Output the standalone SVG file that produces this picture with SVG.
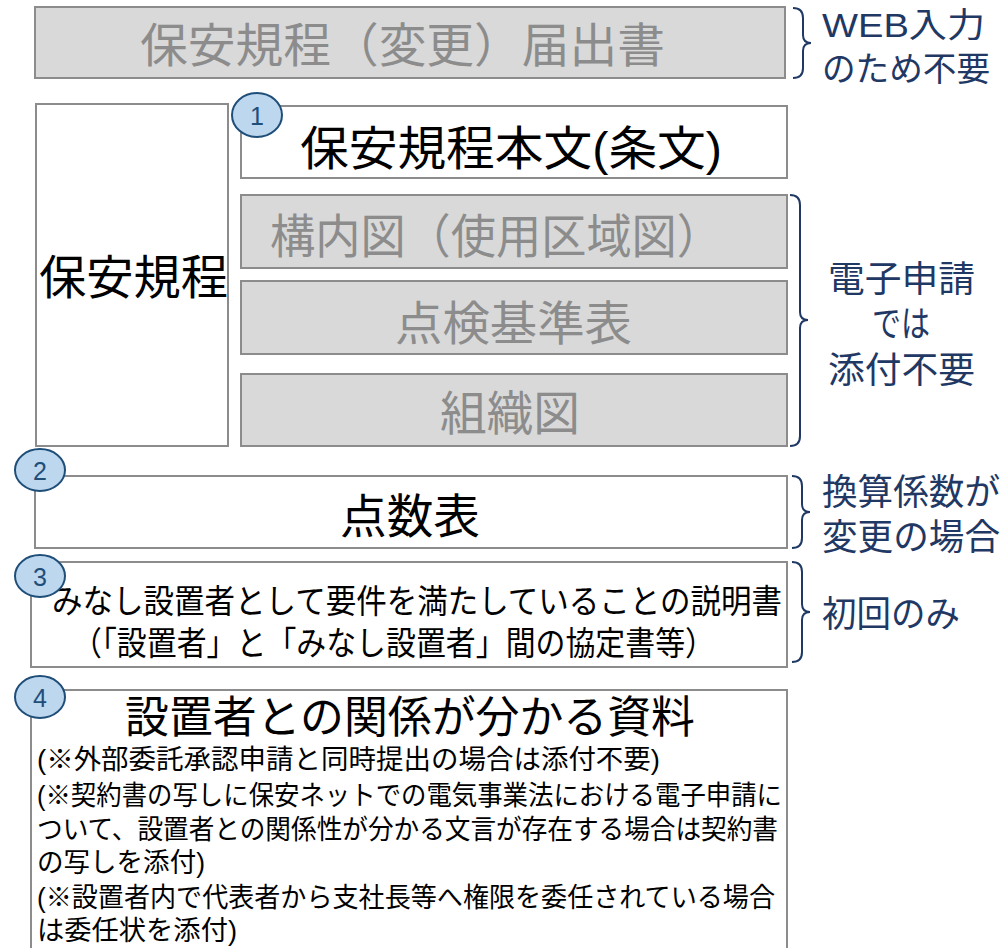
<svg xmlns="http://www.w3.org/2000/svg" width="1004" height="948" viewBox="0 0 1004 948">
<style>
.gbox{fill:#D9D9D9;stroke:#8C8C8C;stroke-width:2}
.wbox{fill:#FFFFFF;stroke:#8C8C8C;stroke-width:2}
.t{font-family:"Liberation Sans","Noto Sans CJK JP",sans-serif}
.gt{fill:#8C8C8C}
.bt{fill:#000000}
.nt{fill:#1F3864}
.brace{fill:none;stroke:#1F3864;stroke-width:2}
.circ{fill:#BDD7EE;stroke:#1F4E79;stroke-width:2}
.num{font-family:"Liberation Sans","Noto Sans",sans-serif;font-size:25px;fill:#1F4E79;text-anchor:middle}
</style>
<rect width="1004" height="948" fill="#FFFFFF"/>
<g id="todoke">
<rect class="gbox" x="35" y="7" width="750" height="71"/>
<text class="t gt" x="140" y="62" font-size="47" textLength="525" lengthAdjust="spacingAndGlyphs">保安規程（変更）届出書</text>
</g>
<g id="kitei">
<rect class="wbox" x="36" y="104" width="192" height="342"/>
<text class="t bt" x="39" y="294" font-size="47" textLength="189" lengthAdjust="spacingAndGlyphs">保安規程</text>
</g>
<g id="honbun">
<rect class="wbox" x="241" y="106" width="546" height="72"/>
<text class="t bt" x="300" y="165" font-size="47" textLength="422" lengthAdjust="spacingAndGlyphs">保安規程本文(条文)</text>
</g>
<g id="kounaizu">
<rect class="gbox" x="241" y="195" width="546" height="73"/>
<text class="t gt" x="270" y="253" font-size="47" textLength="452" lengthAdjust="spacingAndGlyphs">構内図（使用区域図）</text>
</g>
<g id="tenken">
<rect class="gbox" x="241" y="281" width="546" height="73"/>
<text class="t gt" x="395" y="340" font-size="47" textLength="237" lengthAdjust="spacingAndGlyphs">点検基準表</text>
</g>
<g id="soshiki">
<rect class="gbox" x="241" y="374" width="546" height="72"/>
<text class="t gt" x="440" y="430" font-size="47" textLength="140" lengthAdjust="spacingAndGlyphs">組織図</text>
</g>
<g id="tensu">
<rect class="wbox" x="35" y="476" width="752" height="72"/>
<text class="t bt" x="340" y="533" font-size="47" textLength="140" lengthAdjust="spacingAndGlyphs">点数表</text>
</g>
<g id="setsumei">
<rect class="wbox" x="31" y="562" width="756" height="105"/>
<text class="t bt" x="52" y="613" font-size="33" textLength="730" lengthAdjust="spacingAndGlyphs">みなし設置者として要件を満たしていることの説明書</text>
<text class="t bt" x="72" y="655" font-size="33" textLength="643" lengthAdjust="spacingAndGlyphs">（「設置者」と「みなし設置者」間の協定書等）</text>
</g>
<g id="shiryo">
<rect class="wbox" x="31" y="690" width="756" height="270"/>
<text class="t bt" x="125" y="733" font-size="44" textLength="570" lengthAdjust="spacingAndGlyphs">設置者との関係が分かる資料</text>
<text class="t bt" x="37" y="769" font-size="27" textLength="623" lengthAdjust="spacingAndGlyphs">(※外部委託承認申請と同時提出の場合は添付不要)</text>
<text class="t bt" x="37" y="805" font-size="27" textLength="745" lengthAdjust="spacingAndGlyphs">(※契約書の写しに保安ネットでの電気事業法における電子申請に</text>
<text class="t bt" x="37" y="839" font-size="27" textLength="741" lengthAdjust="spacingAndGlyphs">ついて、設置者との関係性が分かる文言が存在する場合は契約書</text>
<text class="t bt" x="37" y="872" font-size="27" textLength="168" lengthAdjust="spacingAndGlyphs">の写しを添付)</text>
<text class="t bt" x="37" y="907" font-size="27" textLength="738" lengthAdjust="spacingAndGlyphs">(※設置者内で代表者から支社長等へ権限を委任されている場合</text>
<text class="t bt" x="37" y="940" font-size="27" textLength="200" lengthAdjust="spacingAndGlyphs">は委任状を添付)</text>
</g>
<g id="n1"><ellipse class="circ" cx="257" cy="115" rx="25" ry="22"/><text class="num" x="257" y="125">1</text></g>
<g id="n2"><ellipse class="circ" cx="40" cy="470" rx="25" ry="21"/><text class="num" x="40" y="480">2</text></g>
<g id="n3"><ellipse class="circ" cx="40" cy="576" rx="25" ry="21"/><text class="num" x="40" y="586">3</text></g>
<g id="n4"><ellipse class="circ" cx="40" cy="697" rx="25" ry="21"/><text class="num" x="40" y="707">4</text></g>
<g id="connectors">
<path class="brace" d="M793,8 Q803,8 803,18 L803,35 Q803,43 811,43 Q803,43 803,51 L803,68 Q803,78 793,78"/>
<path class="brace" d="M790,195 Q800,195 800,205 L800,312 Q800,320 808,320 Q800,320 800,328 L800,436 Q800,446 790,446"/>
<path class="brace" d="M792,476 Q802,476 802,486 L802,504 Q802,512 810,512 Q802,512 802,520 L802,538 Q802,548 792,548"/>
<path class="brace" d="M792,562 Q802,562 802,572 L802,604 Q802,612 810,612 Q802,612 802,620 L802,652 Q802,662 792,662"/>
</g>
<g id="notes">
<text class="t nt" x="822" y="37" font-size="34" textLength="163" lengthAdjust="spacingAndGlyphs">WEB入力</text>
<text class="t nt" x="822" y="81" font-size="34" textLength="168" lengthAdjust="spacingAndGlyphs">のため不要</text>
<text class="t nt" x="828" y="292" font-size="36" textLength="147" lengthAdjust="spacingAndGlyphs">電子申請</text>
<text class="t nt" x="872" y="337" font-size="36" textLength="58" lengthAdjust="spacingAndGlyphs">では</text>
<text class="t nt" x="828" y="383" font-size="36" textLength="147" lengthAdjust="spacingAndGlyphs">添付不要</text>
<text class="t nt" x="822" y="505" font-size="36" textLength="178" lengthAdjust="spacingAndGlyphs">換算係数が</text>
<text class="t nt" x="822" y="550" font-size="36" textLength="178" lengthAdjust="spacingAndGlyphs">変更の場合</text>
<text class="t nt" x="822" y="627" font-size="36" textLength="138" lengthAdjust="spacingAndGlyphs">初回のみ</text>
</g>
</svg>
